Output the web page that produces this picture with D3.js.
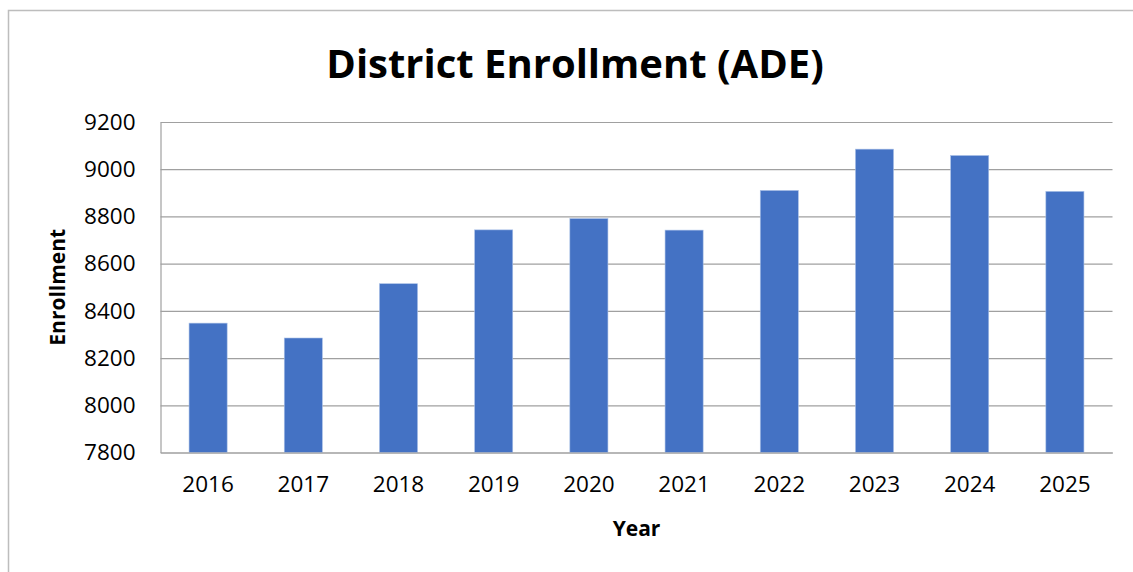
<!DOCTYPE html>
<html>
<head>
<meta charset="utf-8">
<script src="https://cdn.jsdelivr.net/npm/d3@7"></script>
<style>
  html, body { margin: 0; padding: 0; background: #fff; overflow: hidden; }
  text { font-family: "Open Sans", "Noto Sans", sans-serif; fill: #000; }
</style>
</head>
<body>
<script>
const years = ['2016', '2017', '2018', '2019', '2020', '2021', '2022', '2023', '2024', '2025'];
const enrollment = [8348, 8285, 8515, 8743, 8791, 8742, 8910, 9085, 9058, 8906];
const yTicks = [7800, 8000, 8200, 8400, 8600, 8800, 9000, 9200];
const chartTitle = 'District Enrollment (ADE)';
const xTitle = 'Year';
const yTitle = 'Enrollment';

const width = 1133, height = 572;
const plotLeft = 160.5, plotRight = 1112.5, plotTop = 122, plotBottom = 452.5;

const svg = d3.select('body').append('svg')
    .attr('width', width)
    .attr('height', height);

// chart area border (runs off the right and bottom of the picture)
svg.append('rect')
    .attr('x', 8.5).attr('y', 10.5)
    .attr('width', 1150).attr('height', 600)
    .attr('fill', 'none')
    .attr('stroke', '#bdbdbd')
    .attr('stroke-width', 1.5);

const x = d3.scaleBand()
    .domain(years)
    .range([plotLeft, plotRight])
    .paddingInner(0.6)
    .paddingOuter(0.3);

const y = d3.scaleLinear()
    .domain([yTicks[0], yTicks[yTicks.length - 1]])
    .range([plotBottom, plotTop]);

// gridlines
const grid = svg.append('g')
    .attr('transform', `translate(${plotLeft},0)`)
    .call(d3.axisLeft(y).tickValues(yTicks).tickSize(-(plotRight - plotLeft)).tickFormat(''));
grid.select('.domain').remove();
grid.selectAll('line').attr('stroke', '#a0a0a0').attr('stroke-width', 1.2);

// bars
svg.selectAll('rect.bar')
    .data(enrollment)
    .enter()
    .append('rect')
    .attr('class', 'bar')
    .attr('x', (d, i) => x(years[i]))
    .attr('width', x.bandwidth())
    .attr('y', d => y(d))
    .attr('height', d => plotBottom - y(d))
    .attr('fill', '#4472c4')
    .attr('stroke', '#a8bfe6')
    .attr('stroke-width', 0.6);

// y axis
const yAxis = svg.append('g')
    .attr('transform', `translate(${plotLeft},0)`)
    .call(d3.axisLeft(y).tickValues(yTicks).tickSize(0).tickPadding(25).tickFormat(d3.format('d')));
yAxis.select('.domain').attr('stroke', '#a0a0a0').attr('stroke-width', 1.2);
yAxis.selectAll('text')
    .style('font-family', '"Open Sans", sans-serif')
    .style('font-size', '22.5px')
    .attr('fill', '#000');

// x axis
const xAxis = svg.append('g')
    .attr('transform', `translate(0,${plotBottom})`)
    .call(d3.axisBottom(x).tickSize(0).tickPadding(24));
xAxis.select('.domain').attr('stroke', '#a0a0a0').attr('stroke-width', 1.2);
xAxis.selectAll('text')
    .style('font-family', '"Open Sans", sans-serif')
    .style('font-size', '22.5px')
    .attr('fill', '#000');

// titles
svg.append('text')
    .attr('x', 575).attr('y', 78)
    .attr('text-anchor', 'middle')
    .style('font-size', '40px')
    .style('font-weight', 'bold')
    .text(chartTitle);

svg.append('text')
    .attr('x', (plotLeft + plotRight) / 2).attr('y', 536)
    .attr('text-anchor', 'middle')
    .style('font-size', '21px')
    .style('font-weight', 'bold')
    .text(xTitle);

svg.append('text')
    .attr('transform', `translate(65,${(plotTop + plotBottom) / 2}) rotate(-90)`)
    .attr('text-anchor', 'middle')
    .style('font-size', '21px')
    .style('font-weight', 'bold')
    .text(yTitle);
</script>
</body>
</html>
